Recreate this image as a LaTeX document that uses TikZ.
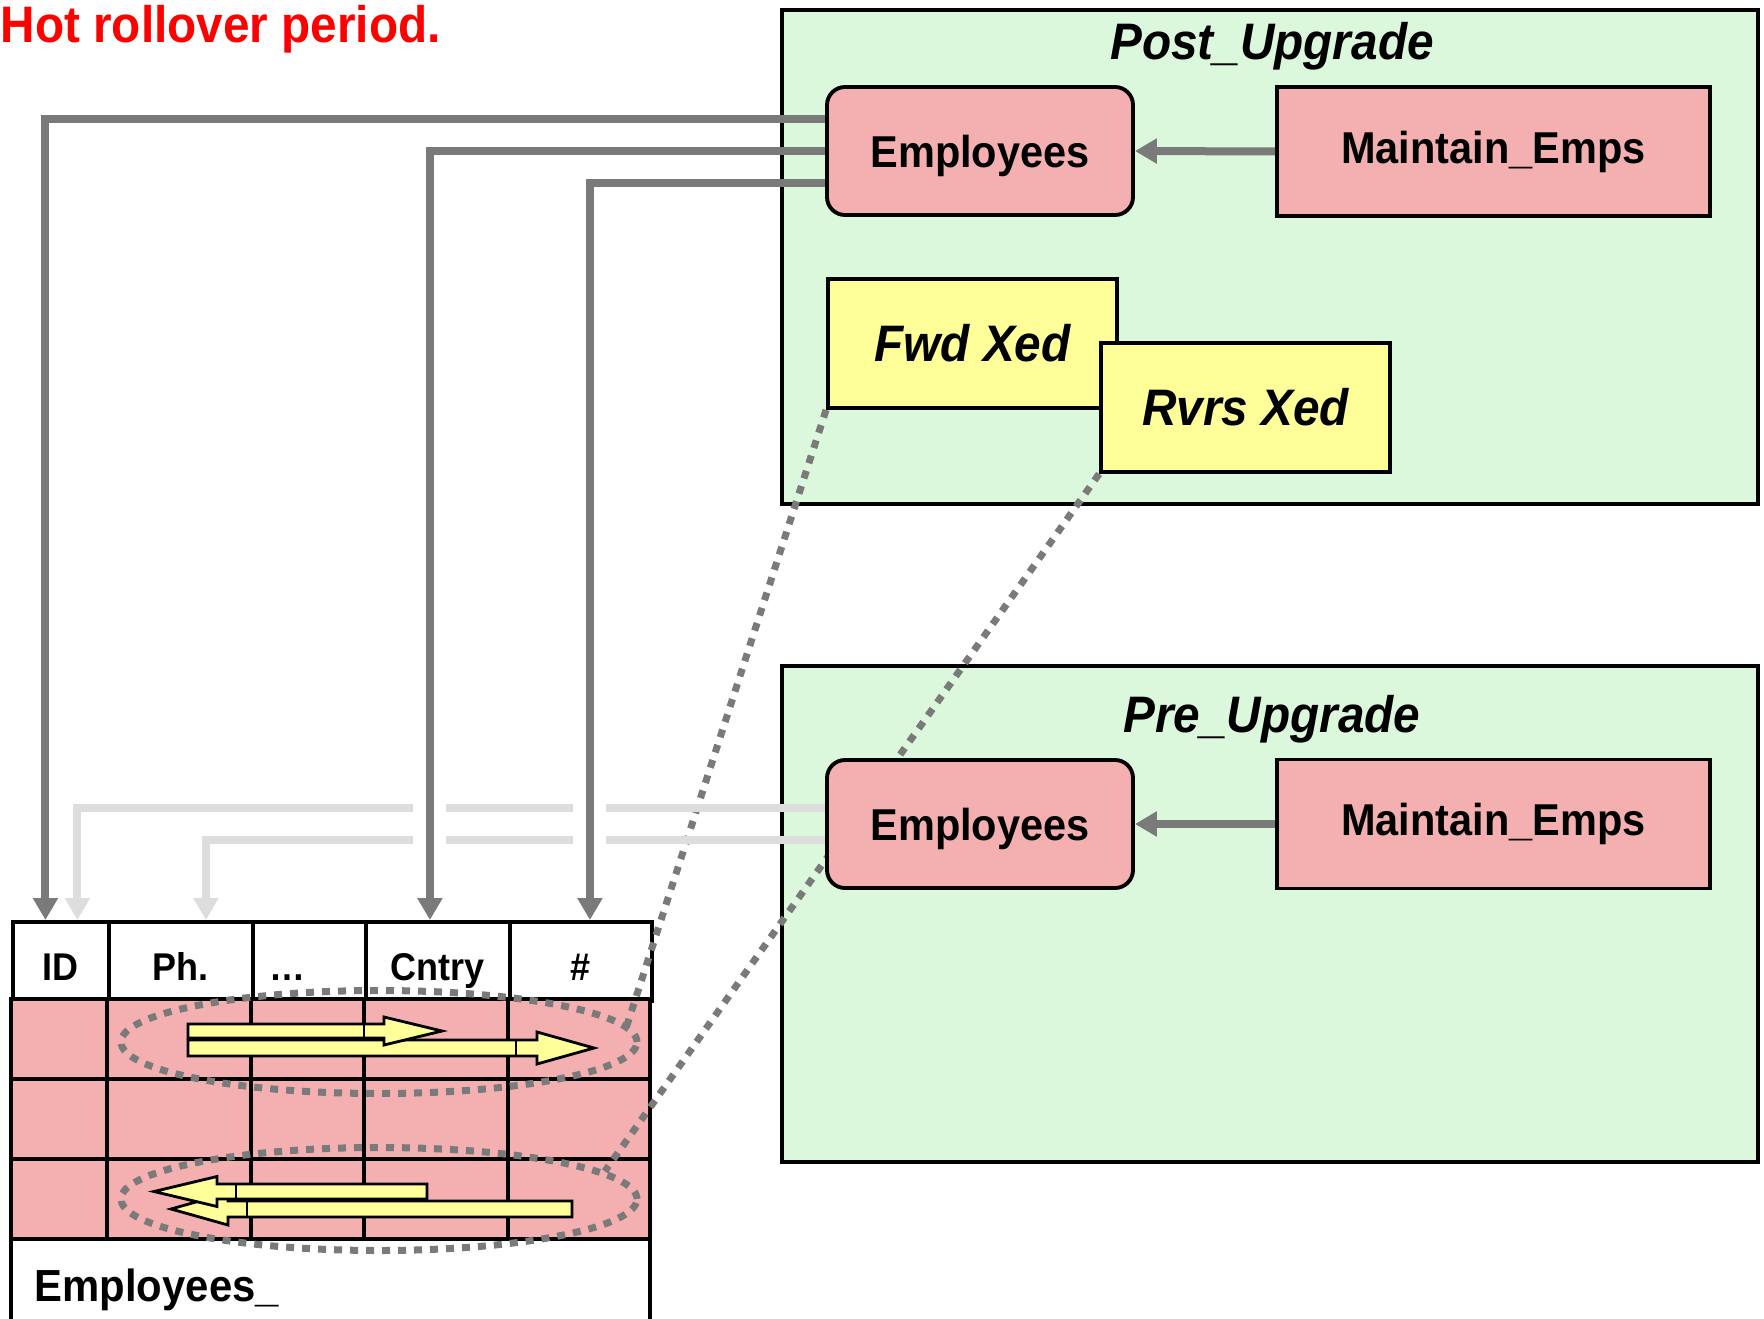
\documentclass[tikz,border=0pt]{standalone}
\usepackage{fontspec}
\setmainfont{Liberation Sans}[FakeStretch=0.93]
\usepackage{tikz}
\usetikzlibrary{shapes,arrows}
\usetikzlibrary{arrows.meta}
\usetikzlibrary{positioning}
\usetikzlibrary{shapes.geometric}

\definecolor{hotred}{RGB}{255,0,0}
\definecolor{upgreen}{RGB}{220,248,220}
\definecolor{tabpink}{RGB}{244,176,176}
\definecolor{xedyellow}{RGB}{255,255,153}
\definecolor{linkgray}{RGB}{122,122,122}
\definecolor{oldgray}{RGB}{221,221,221}

\newcommand{\boxfont}{\fontsize{12.7}{15}\selectfont\bfseries}
\newcommand{\headfont}{\fontsize{11}{13}\selectfont\bfseries}
\newcommand{\xedfont}{\fontsize{14.6}{17}\selectfont\bfseries\itshape}
\newcommand{\xedarrow}[6] {\filldraw [fill=xedyellow, draw=black, line width=0.8pt] (#1,#5+#6) -- (#3,#5+#6) -- (#3,#5+2*#6) -- (#4,#5) -- (#3,#5-2*#6) -- (#3,#5-#6) -- (#1,#5-#6) -- cycle; \draw [line width=0.8pt] (#2,#5+#6) -- (#2,#5-#6);}

\tikzset{
  upgradebox/.style={draw, line width=1.1pt, fill=upgreen, anchor=north west, inner sep=0pt},
  empbox/.style={draw, line width=1.1pt, fill=tabpink, rounded corners=0.18cm, minimum width=3.06cm, minimum height=1.28cm, text depth=0pt, font=\boxfont},
  procbox/.style={draw, line width=1.1pt, fill=tabpink, minimum width=4.33cm, minimum height=1.29cm, font=\boxfont},
  xedbox/.style={draw, line width=1.1pt, fill=xedyellow, minimum width=2.89cm, minimum height=1.29cm, font=\xedfont},
  headcell/.style={draw, line width=1.1pt, fill=white, anchor=north west, minimum height=0.79cm, inner sep=0pt, text height=0.39cm, text depth=0pt, font=\headfont},
  rowcell/.style={fill=tabpink, line width=1.1pt},
  newlink/.style={draw=linkgray, line width=0.08cm, -{Triangle[length=0.22cm,width=0.24cm]}},
  oldlink/.style={draw=oldgray, line width=0.08cm, -{Triangle[length=0.22cm,width=0.24cm]}},
  linkgap/.style={draw=white, line width=0.33cm},
  scanring/.style={ellipse, draw=linkgray, line width=0.07cm, dash pattern=on 0.08cm off 0.08cm, inner sep=0pt, minimum width=5.16cm, minimum height=1.03cm},
  scanlink/.style={draw=linkgray, line width=0.07cm, dash pattern=on 0.08cm off 0.08cm}
}

\begin{document}
\begin{tikzpicture}
\useasboundingbox (0,0) rectangle (17.64,13.18);

\node [anchor=base west, text=hotred, inner sep=0pt, font=\fontsize{14.6}{17}\selectfont\bfseries] (hottitle) at (0,12.75) {Hot rollover period.};

% the two upgrade areas
\node [upgradebox, minimum width=9.76cm, minimum height=4.94cm] (postbox) at (7.80,13.10) {};
\node [anchor=base, inner sep=0pt, font=\xedfont] (posttitle) at ([xshift=0.02cm,yshift=-0.52cm]postbox.north) {Post\_Upgrade};
\node [upgradebox, minimum width=9.76cm, minimum height=4.96cm] (prebox) at (7.80,6.54) {};
\node [anchor=base, inner sep=0pt, font=\xedfont] (pretitle) at ([xshift=0.02cm,yshift=-0.68cm]prebox.north) {Pre\_Upgrade};

% the table
\foreach \x/\w/\lab/\nm in {0.11/0.96/ID/hID, 1.07/1.44/Ph./hPh, 2.51/1.13/{…\hspace*{0.44cm}}/hdots, 3.64/1.44/Cntry/hCntry, 5.08/1.42/\#/hNum}
  \node [headcell, minimum width=\w cm] (\nm) at (\x,3.98) {\lab};
\foreach \x/\w in {0.11/0.96, 1.07/1.44, 2.51/1.13, 3.64/1.44, 5.08/1.42}
  \foreach \y in {3.19, 2.39, 1.59}
    \draw [rowcell] (\x,\y) rectangle ++(\w,-0.80);
\draw [line width=1.1pt] (0.11,0.79) -- (0.11,-0.2);
\draw [line width=1.1pt] (6.50,0.79) -- (6.50,-0.2);
\node [anchor=base west, inner sep=0pt, font=\fontsize{12.8}{15}\selectfont\bfseries] (tabname) at (0.34,0.17) {Employees\_};

\node [scanring] (fwdring) at (3.79,2.76) {};
\node [scanring] (rvrsring) at (3.79,1.19) {};

\xedarrow{1.88}{5.16}{5.37}{5.94}{2.70}{0.08};
\xedarrow{1.88}{3.64}{3.84}{4.42}{2.87}{0.07};
\xedarrow{5.72}{2.47}{2.28}{1.71}{1.09}{0.08};
\xedarrow{4.27}{2.36}{2.17}{1.54}{1.265}{0.075};

% crossed edition views
\node [xedbox] (fwdxed) at (9.725,9.745) {Fwd Xed};
\node [xedbox] (rvrsxed) at (12.455,9.105) {Rvrs Xed};
\draw [scanlink] (fwdxed.south west) -- (fwdring.4);
\draw [scanlink] (rvrsxed.south west) -- (rvrsring.7);

\node [empbox] (postemp) at (9.80,11.67) {Employees};
\node [procbox] (postproc) at (14.935,11.665) {Maintain\_Emps};
\node [empbox] (preemp) at (9.80,4.94) {Employees};
\node [procbox] (preproc) at (14.935,4.94) {Maintain\_Emps};

\draw [newlink] (postproc.west) -- (postemp.east);
\draw [newlink] (preproc.west) -- (preemp.east);

\coordinate (dropID) at ([xshift=-0.155cm]hID.north);
\coordinate (dropCntry) at ([xshift=-0.08cm]hCntry.north);
\coordinate (dropNum) at ([xshift=0.09cm]hNum.north);

\draw [oldlink] ([yshift=0.16cm]preemp.west) -| ([xshift=0.165cm]hID.north);
\draw [oldlink] ([yshift=-0.16cm]preemp.west) -| ([xshift=0.25cm]hPh.north);

\draw [linkgap] ([yshift=1.28cm]dropCntry) -- ([yshift=0.60cm]dropCntry);
\draw [linkgap] ([yshift=1.28cm]dropNum) -- ([yshift=0.60cm]dropNum);

\draw [newlink] ([yshift=0.32cm]postemp.west) -| (dropID);
\draw [newlink] (postemp.west) -| (dropCntry);
\draw [newlink] ([yshift=-0.32cm]postemp.west) -| (dropNum);

%\node at (3,-1) {};
\end{tikzpicture}
\end{document}
